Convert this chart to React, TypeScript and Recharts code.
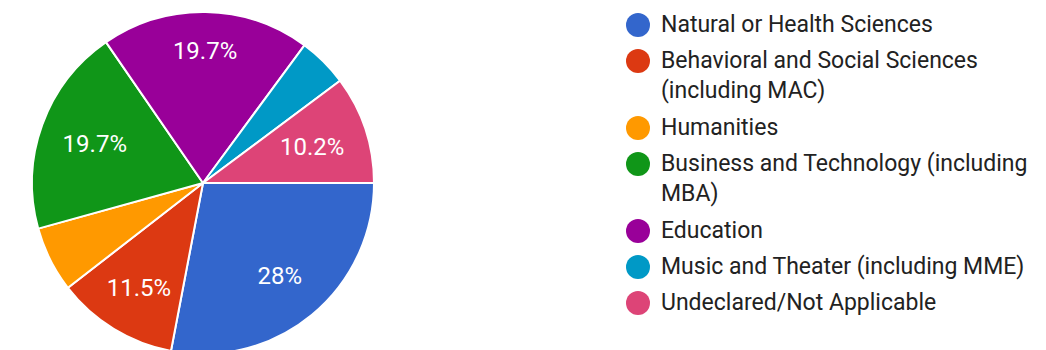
import { Legend, Pie, PieChart } from "recharts";

const categories = [
  "Natural or Health Sciences",
  "Behavioral and Social Sciences (including MAC)",
  "Humanities",
  "Business and Technology (including MBA)",
  "Education",
  "Music and Theater (including MME)",
  "Undeclared/Not Applicable",
];
const legendLines = [
  ["Natural or Health Sciences"],
  ["Behavioral and Social Sciences", "(including MAC)"],
  ["Humanities"],
  ["Business and Technology (including", "MBA)"],
  ["Education"],
  ["Music and Theater (including MME)"],
  ["Undeclared/Not Applicable"],
];
const shares = [28, 11.5, 6.2, 19.7, 19.7, 4.7, 10.2];
const colors = ["#3366cc", "#dc3912", "#ff9900", "#109618", "#990099", "#0099c6", "#dd4477"];

const data = categories.map((name, i) => ({ name, value: shares[i], fill: colors[i] }));

const RAD = Math.PI / 180;

// labels sit a bit further out on vertical slices than on horizontal ones
const renderLabel = (props: any) => {
  const { cx, cy, midAngle, outerRadius, value } = props;
  if (value < 10) return null;
  const c = Math.cos(-midAngle * RAD);
  const s = Math.sin(-midAngle * RAD);
  const r = outerRadius * (0.772 - 0.105 * Math.abs(c));
  return (
    <text
      x={cx + r * c}
      y={cy + r * s}
      fill="#ffffff"
      fontSize={24}
      fontFamily="Roboto"
      textAnchor="middle"
      dominantBaseline="central"
    >
      {`${value}%`}
    </text>
  );
};

const LegendBox = () => (
  <div style={{ fontFamily: "Roboto", fontSize: 23, color: "#222222" }}>
    {legendLines.map((lines, i) => (
      <div key={i} style={{ display: "flex", alignItems: "flex-start", marginBottom: 6.4 }}>
        <span
          style={{
            width: 24,
            height: 24,
            borderRadius: 12,
            background: colors[i],
            marginTop: 3,
            marginRight: 11,
            flexShrink: 0,
          }}
        />
        <div>
          {lines.map((t, j) => (
            <div key={j} style={{ lineHeight: "30px", whiteSpace: "nowrap" }}>
              {t}
            </div>
          ))}
        </div>
      </div>
    ))}
  </div>
);

export default function App() {
  return (
    <div style={{ position: "absolute", left: 0, top: 0, width: 1046, height: 350, background: "#fff" }}>
      <PieChart width={1046} height={350} margin={{ top: 0, right: 0, bottom: 0, left: 0 }}>
        <Pie
          data={data}
          dataKey="value"
          nameKey="name"
          cx={203}
          cy={183}
          outerRadius={171}
          startAngle={0}
          endAngle={-360}
          stroke="#ffffff"
          strokeWidth={2}
          label={renderLabel}
          labelLine={false}
          isAnimationActive={false}
        />
        <Legend
          content={<LegendBox />}
          wrapperStyle={{ left: 626, top: 10, width: 420 }}
        />
      </PieChart>
    </div>
  );
}
